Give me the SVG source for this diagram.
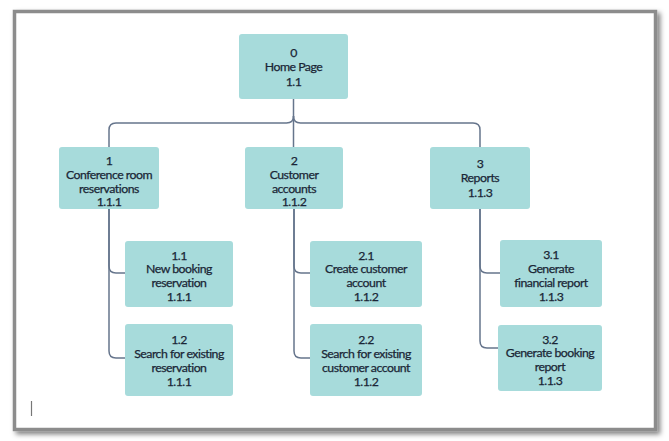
<svg xmlns="http://www.w3.org/2000/svg" width="669" height="441" viewBox="0 0 669 441">
<defs>
<filter id="sh" x="-5%" y="-5%" width="110%" height="110%">
<feDropShadow dx="3" dy="3" stdDeviation="2.5" flood-color="#000" flood-opacity="0.5"/>
</filter>
<style>
.n{fill:#a7dbdb;}
.t{font-family:"Lato","Noto Sans",sans-serif;font-size:12.3px;letter-spacing:-0.5px;fill:#1a2636;stroke:#1a2636;stroke-width:0.25;text-anchor:middle;}
.c{fill:none;stroke:#66758c;stroke-width:1.5;}
</style>
</defs>
<rect x="0" y="0" width="669" height="441" fill="#ffffff"/>
<rect x="14.5" y="11.5" width="641" height="418" fill="#ffffff" stroke="#8c8c8c" stroke-width="3.5" filter="url(#sh)"/>
<line x1="31.5" y1="401" x2="31.5" y2="416" stroke="#777" stroke-width="1.2"/>
<g id="connectors">
<path class="c" d="M293.5,99 V147"/>
<path class="c" d="M293.5,116 Q293.5,123 286.5,123 H116 Q109,123 109,130 V147"/>
<path class="c" d="M293.5,116 Q293.5,123 300.5,123 H473 Q480,123 480,130 V147"/>
<path class="c" d="M109,209 V266 Q109,273 116,273 H125"/>
<path class="c" d="M109,209 V351 Q109,358 116,358 H125"/>
<path class="c" d="M294,209 V266 Q294,273 301,273 H310"/>
<path class="c" d="M294,209 V351 Q294,358 301,358 H310"/>
<path class="c" d="M480,209 V266 Q480,273 487,273 H500"/>
<path class="c" d="M480,209 V341 Q480,348 487,348 H498"/>
</g>
<g id="n0"><rect class="n" x="239" y="34" width="109" height="65" rx="3"/>
<text class="t" x="293.5" y="56.5">0</text><text class="t" x="293.5" y="71">Home Page</text><text class="t" x="293.5" y="85.5">1.1</text></g>
<g id="n1"><rect class="n" x="59" y="147" width="100" height="62" rx="3"/>
<text class="t" x="109" y="165">1</text><text class="t" x="109" y="178.8">Conference room</text><text class="t" x="109" y="192.6">reservations</text><text class="t" x="109" y="206.4">1.1.1</text></g>
<g id="n2"><rect class="n" x="245" y="147" width="98" height="62" rx="3"/>
<text class="t" x="294" y="165">2</text><text class="t" x="294" y="178.8">Customer</text><text class="t" x="294" y="192.6">accounts</text><text class="t" x="294" y="206.4">1.1.2</text></g>
<g id="n3"><rect class="n" x="430" y="147" width="100" height="62" rx="3"/>
<text class="t" x="480" y="167.5">3</text><text class="t" x="480" y="182">Reports</text><text class="t" x="480" y="196.5">1.1.3</text></g>
<g id="n11"><rect class="n" x="125" y="241" width="108" height="66" rx="3"/>
<text class="t" x="179" y="259.5">1.1</text><text class="t" x="179" y="273.3">New booking</text><text class="t" x="179" y="287.1">reservation</text><text class="t" x="179" y="300.9">1.1.1</text></g>
<g id="n12"><rect class="n" x="125" y="324" width="108" height="72" rx="3"/>
<text class="t" x="179" y="343.5">1.2</text><text class="t" x="179" y="357.5">Search for existing</text><text class="t" x="179" y="371.5">reservation</text><text class="t" x="179" y="385.5">1.1.1</text></g>
<g id="n21"><rect class="n" x="310" y="241" width="112" height="66" rx="3"/>
<text class="t" x="366" y="259.5">2.1</text><text class="t" x="366" y="273.3">Create customer</text><text class="t" x="366" y="287.1">account</text><text class="t" x="366" y="300.9">1.1.2</text></g>
<g id="n22"><rect class="n" x="310" y="324" width="112" height="72" rx="3"/>
<text class="t" x="366" y="343.5">2.2</text><text class="t" x="366" y="357.5">Search for existing</text><text class="t" x="366" y="371.5">customer account</text><text class="t" x="366" y="385.5">1.1.2</text></g>
<g id="n31"><rect class="n" x="500" y="240" width="102" height="67" rx="3"/>
<text class="t" x="551" y="258.5">3.1</text><text class="t" x="551" y="272.5">Generate</text><text class="t" x="551" y="286.5">financial report</text><text class="t" x="551" y="300.5">1.1.3</text></g>
<g id="n32"><rect class="n" x="498" y="325" width="104" height="66" rx="3"/>
<text class="t" x="550" y="343.5">3.2</text><text class="t" x="550" y="357.3">Generate booking</text><text class="t" x="550" y="371.3">report</text><text class="t" x="550" y="385.1">1.1.3</text></g>
</svg>
